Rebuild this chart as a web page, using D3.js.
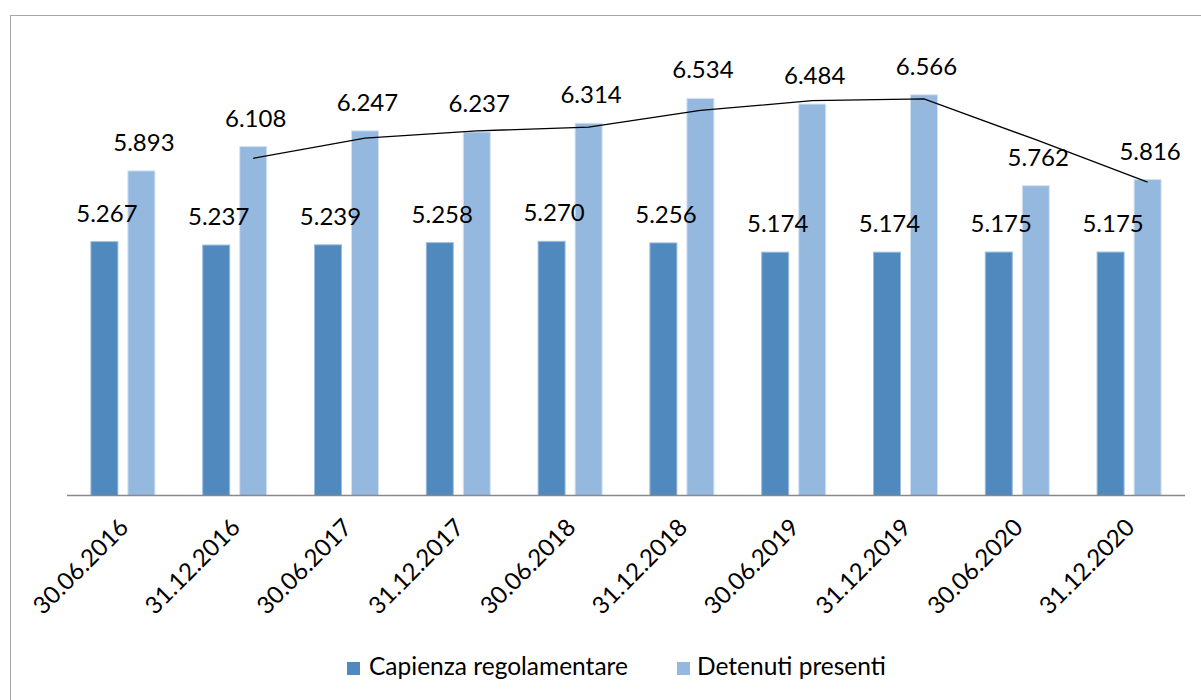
<!DOCTYPE html>
<html>
<head>
<meta charset="utf-8">
<script src="https://cdn.jsdelivr.net/npm/d3@7/dist/d3.min.js"></script>
<style>
  html, body { margin: 0; padding: 0; background: #fff; }
  svg { display: block; }
  text { font-family: Lato, "Open Sans", sans-serif; fill: #000; }
</style>
</head>
<body>
<svg id="chart" width="1201" height="700"></svg>
<script>
const categories = ["30.06.2016","31.12.2016","30.06.2017","31.12.2017","30.06.2018","31.12.2018","30.06.2019","31.12.2019","30.06.2020","31.12.2020"];
const capienza = [5267, 5237, 5239, 5258, 5270, 5256, 5174, 5174, 5175, 5175];
const detenuti = [5893, 6108, 6247, 6237, 6314, 6534, 6484, 6566, 5762, 5816];
// trend line, starting at the second category
const trendCategories = categories.slice(1);
const trendValues = [6000, 6178, 6242, 6276, 6424, 6509, 6525, 6164, 5789];
const seriesNames = ["Capienza regolamentare", "Detenuti presenti"];
const colors = ["#4F89BD", "#95B8DF"];
const strokeColors = ["#9DBCDB", "#D3E2F2"];

const svg = d3.select("#chart");
const fmt = v => d3.format(",")(v).replace(",", ".");

// chart border
svg.append("rect").attr("x", 10.5).attr("y", 15.5).attr("width", 1200).attr("height", 700)
  .attr("fill", "none").attr("stroke", "#A6A6A6").attr("stroke-width", 1);

const x = d3.scaleBand().domain(categories).range([67, 1185]).padding(0);
const y = d3.scaleLinear().domain([3000, 7000]).range([497.5, 45.2]);
const axisY = 495.5;
const barW = 28, gap = 9;
const offsets = [-(barW + gap / 2), gap / 2];
const series = [capienza, detenuti];

const barLayer = svg.append("g");
const labelLayer = svg.append("g");
series.forEach((vals, si) => {
  barLayer.append("g").selectAll("rect").data(vals).join("rect")
    .attr("x", (d, i) => x(categories[i]) + x.bandwidth() / 2 + offsets[si] + 0.5)
    .attr("y", d => y(d) + 0.5)
    .attr("width", barW - 1)
    .attr("height", d => axisY - y(d) - 0.5)
    .attr("fill", colors[si])
    .attr("stroke", strokeColors[si])
    .attr("stroke-width", 1);
});

// trend line at light bar centres
const line = d3.line()
  .x(d => x(d[0]) + x.bandwidth() / 2 + offsets[1] + barW / 2)
  .y(d => y(d[1]));
svg.append("path").datum(trendCategories.map((c, i) => [c, trendValues[i]]))
  .attr("d", line).attr("fill", "none").attr("stroke", "#000").attr("stroke-width", 1.3);

series.forEach((vals, si) => {
  svg.append("g").selectAll("text").data(vals).join("text")
    .attr("x", (d, i) => x(categories[i]) + x.bandwidth() / 2 + offsets[si] + barW / 2 + 2.5)
    .attr("y", d => y(d) - 19.5)
    .attr("text-anchor", "middle")
    .attr("font-size", 24)
    .text(d => fmt(d));
});

// x axis
svg.append("line").attr("x1", 67).attr("x2", 1185).attr("y1", axisY).attr("y2", axisY)
  .attr("stroke", "#898989").attr("stroke-width", 1.5);

svg.append("g").selectAll("text").data(categories).join("text")
  .attr("transform", d => `translate(${x(d) + x.bandwidth() / 2 + 1},${523}) rotate(-45)`)
  .attr("text-anchor", "end")
  .attr("dy", "0.35em")
  .attr("font-size", 24)
  .text(d => d);

// legend
const legend = svg.append("g");
const legendItems = [{ name: seriesNames[0], color: colors[0], sx: 347, tx: 369 },
                     { name: seriesNames[1], color: colors[1], sx: 677, tx: 697 }];
legendItems.forEach(it => {
  legend.append("rect").attr("x", it.sx).attr("y", 662).attr("width", 13).attr("height", 13).attr("fill", it.color);
  legend.append("text").attr("x", it.tx).attr("y", 675).attr("font-size", 24.5).text(it.name);
});
</script>
</body>
</html>
